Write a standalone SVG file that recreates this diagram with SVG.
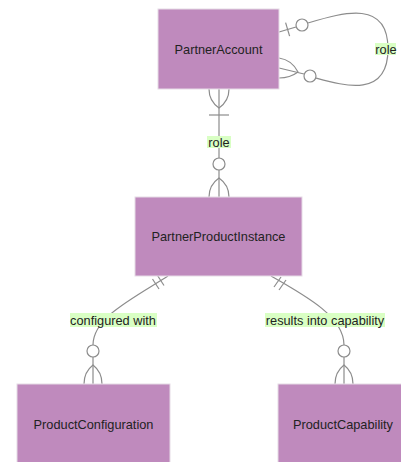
<svg xmlns="http://www.w3.org/2000/svg" width="401" height="462" viewBox="0 0 401 462">
<style>
.box{fill:#bf8abd;stroke:#e6dbe6;stroke-width:1}
.t{font-family:"Liberation Sans",Arial,sans-serif;font-size:12.75px;fill:#222;text-anchor:middle;dominant-baseline:central}
.l{font-family:"Liberation Sans",Arial,sans-serif;font-size:12.75px;fill:#222;text-anchor:middle;dominant-baseline:central}
.lb{fill:#d9ffc4}
.c{fill:none;stroke:#8c8c8c;stroke-width:1.2}
.o{fill:#fff;stroke:#8c8c8c;stroke-width:1.2}
</style>
<rect width="401" height="462" fill="#fff"/>
<g id="connectors">
  <!-- PartnerAccount to PartnerProductInstance -->
  <g id="e-pa-ppi">
    <path class="c" d="M219,89 V197"/>
    <path class="c" d="M209,89 Q209,101 219,108 Q229,101 229,89"/>
    <path class="c" d="M209,115 H229"/>
    <circle class="o" cx="219" cy="164" r="6"/>
    <path class="c" d="M209,197 Q209,185 219,178 Q229,185 229,197"/>
    <rect class="lb" x="207" y="136" width="24" height="12"/>
    <text class="l" x="219" y="142">role</text>
  </g>
  <!-- self loop -->
  <g id="e-pa-self">
    <path class="c" d="M279,32 L296,27"/>
    <path class="c" d="M285.6,22.7 L289.6,36.1"/>
    <circle class="o" cx="302" cy="25" r="6"/>
    <path class="c" d="M308,23 C345,12 388,0 388,49 C388,98 345,86 316,78"/>
    <circle class="o" cx="310" cy="76" r="6"/>
    <path class="c" d="M279,68 L304,74"/>
    <path class="c" d="M279,58 Q292,60 298,72 Q290,78 279,78"/>
    <rect class="lb" x="375" y="43" width="21" height="12"/>
    <text class="l" x="386" y="49">role</text>
  </g>
  <!-- PPI to ProductConfiguration -->
  <g id="e-ppi-pc">
    <path class="c" d="M168,276 C130,300 93,318 93,345"/>
    <path class="c" d="M157.5,275.5 L164,285.5"/>
    <path class="c" d="M152.5,279 L159,289"/>
    <circle class="o" cx="93" cy="351" r="6"/>
    <path class="c" d="M93,357 V384"/>
    <path class="c" d="M84,384 Q84,372 93,365 Q102,372 102,384"/>
    <rect class="lb" x="70" y="313" width="87" height="14"/>
    <text class="l" x="113" y="320">configured with</text>
  </g>
  <!-- PPI to ProductCapability -->
  <g id="e-ppi-pcap">
    <path class="c" d="M271,276 C310,298 344,318 344,345"/>
    <path class="c" d="M274,287 L281,277"/>
    <path class="c" d="M279,290 L286,280"/>
    <circle class="o" cx="344" cy="351" r="6"/>
    <path class="c" d="M344,357 V384"/>
    <path class="c" d="M335,384 Q335,372 344,365 Q353,372 353,384"/>
    <rect class="lb" x="265" y="313" width="120" height="14"/>
    <text class="l" x="325" y="320">results into capability</text>
  </g>
</g>
<g id="PartnerAccount">
  <rect class="box" x="158" y="9" width="121" height="80"/>
  <text class="t" x="218.5" y="49">PartnerAccount</text>
</g>
<g id="PartnerProductInstance">
  <rect class="box" x="135" y="197" width="167" height="79"/>
  <text class="t" x="218.5" y="236.5">PartnerProductInstance</text>
</g>
<g id="ProductConfiguration">
  <rect class="box" x="17" y="384" width="153" height="80"/>
  <text class="t" x="93.5" y="424">ProductConfiguration</text>
</g>
<g id="ProductCapability">
  <rect class="box" x="278" y="384" width="130" height="80"/>
  <text class="t" x="343" y="424">ProductCapability</text>
</g>
</svg>
